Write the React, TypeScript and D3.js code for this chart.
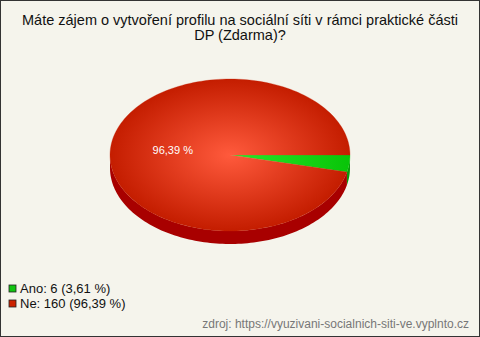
import React, { useEffect, useRef } from "react";
import * as d3 from "d3";

const titleLines = [
  "Máte zájem o vytvoření profilu na sociální síti v rámci praktické části",
  "DP (Zdarma)?",
];
const categories = ["Ano", "Ne"];
const counts = [6, 160];
const percentLabels = ["3,61 %", "96,39 %"];
const sourceText = "zdroj: https://vyuzivani-socialnich-siti-ve.vyplnto.cz";

const W = 480;
const H = 337;

export default function App() {
  const ref = useRef<SVGSVGElement | null>(null);

  useEffect(() => {
    document.body.style.margin = "0";
    const svg = d3.select(ref.current);
    svg.selectAll("*").remove();

    const font = "Arial, 'Liberation Sans', sans-serif";
    const defs = svg.append("defs");

    const redGrad = defs
      .append("radialGradient")
      .attr("id", "redFace")
      .attr("cx", "50%")
      .attr("cy", "50%")
      .attr("r", "50%");
    redGrad.append("stop").attr("offset", "0%").attr("stop-color", "#ff5a3c");
    redGrad.append("stop").attr("offset", "100%").attr("stop-color", "#c41d00");

    const greenGrad = defs
      .append("linearGradient")
      .attr("id", "greenFace")
      .attr("x1", "0%")
      .attr("x2", "100%");
    greenGrad.append("stop").attr("offset", "0%").attr("stop-color", "#2ae82a");
    greenGrad.append("stop").attr("offset", "100%").attr("stop-color", "#08c408");

    svg
      .append("rect")
      .attr("x", 0.5)
      .attr("y", 0.5)
      .attr("width", W - 1)
      .attr("height", H - 1)
      .attr("fill", "#f5f4ec")
      .attr("stroke", "#333")
      .attr("stroke-width", 1);

    svg
      .append("g")
      .selectAll("text")
      .data(titleLines)
      .join("text")
      .attr("x", W / 2)
      .attr("y", (_d, i) => 24.5 + i * 15.5)
      .attr("text-anchor", "middle")
      .attr("font-family", font)
      .attr("font-size", 14.5)
      .attr("fill", "#111")
      .text((d) => d);

    // 3D pie geometry
    const cx = 230;
    const cy = 155;
    const rx = 120;
    const ry = 76;
    const depth = 13;
    const colorsFace = ["url(#greenFace)", "url(#redFace)"];
    const colorsSide = ["#0a9a0a", "#a80000"];
    const legendColors = ["#11c411", "#cc2200"];

    const total = d3.sum(counts);
    const angle = d3
      .scaleLinear()
      .domain([0, total])
      .range([0, 2 * Math.PI]);

    // slices run clockwise on screen starting from the right (3 o'clock)
    let acc = 0;
    const slices = counts.map((v, i) => {
      const a0 = angle(acc);
      acc += v;
      const a1 = angle(acc);
      return { i, a0, a1 };
    });

    const pt = (a: number, dy = 0): [number, number] => [
      cx + rx * Math.cos(a),
      cy + ry * Math.sin(a) + dy,
    ];

    const facePath = (a0: number, a1: number) => {
      const p = d3.path();
      p.moveTo(cx, cy);
      const steps = Math.max(4, Math.ceil(((a1 - a0) / (2 * Math.PI)) * 180));
      for (let k = 0; k <= steps; k++) {
        const a = a0 + ((a1 - a0) * k) / steps;
        const [x, y] = pt(a);
        p.lineTo(x, y);
      }
      p.closePath();
      return p.toString();
    };

    const sidePath = (a0: number, a1: number) => {
      // visible front wall: angles in [0, PI]
      const s = Math.max(a0, 0);
      const e = Math.min(a1, Math.PI);
      if (e <= s) return null;
      const steps = Math.max(4, Math.ceil(((e - s) / Math.PI) * 120));
      const p = d3.path();
      const top: [number, number][] = [];
      for (let k = 0; k <= steps; k++) top.push(pt(s + ((e - s) * k) / steps));
      p.moveTo(top[0][0], top[0][1]);
      top.forEach(([x, y]) => p.lineTo(x, y));
      for (let k = top.length - 1; k >= 0; k--) p.lineTo(top[k][0], top[k][1] + depth);
      p.closePath();
      return p.toString();
    };

    const pie = svg.append("g");
    slices.forEach((s) => {
      const d = sidePath(s.a0, s.a1);
      if (d) pie.append("path").attr("d", d).attr("fill", colorsSide[s.i]);
    });
    slices.forEach((s) => {
      pie
        .append("path")
        .attr("d", facePath(s.a0, s.a1))
        .attr("fill", colorsFace[s.i])
        .attr("stroke", colorsFace[s.i])
        .attr("stroke-width", 0.3);
    });

    // value label on the big slice
    const big = slices[1];
    const mid = (big.a0 + big.a1) / 2;
    pie
      .append("text")
      .attr("x", cx + rx * 0.48 * Math.cos(mid))
      .attr("y", cy + ry * 0.48 * Math.sin(mid) + 3)
      .attr("text-anchor", "middle")
      .attr("font-family", font)
      .attr("font-size", 11)
      .attr("fill", "#ffffff")
      .text(percentLabels[1]);

    // legend
    const legend = svg
      .append("g")
      .selectAll("g")
      .data(categories)
      .join("g")
      .attr("transform", (_d, i) => `translate(9, ${285 + i * 15})`);
    legend
      .append("rect")
      .attr("width", 7)
      .attr("height", 7)
      .attr("fill", (_d, i) => legendColors[i])
      .attr("stroke", "#222")
      .attr("stroke-width", 0.8);
    legend
      .append("text")
      .attr("x", 11)
      .attr("y", 8)
      .attr("font-family", font)
      .attr("font-size", 13)
      .attr("fill", "#111")
      .text((d, i) => `${d}: ${counts[i]} (${percentLabels[i]})`);

    svg
      .append("text")
      .attr("x", 469)
      .attr("y", 328)
      .attr("text-anchor", "end")
      .attr("font-family", font)
      .attr("font-size", 12)
      .attr("fill", "#777")
      .text(sourceText);
  }, []);

  return (
    <div style={{ position: "absolute", left: 0, top: 0 }}>
      <svg ref={ref} width={W} height={H} style={{ display: "block" }} />
    </div>
  );
}
